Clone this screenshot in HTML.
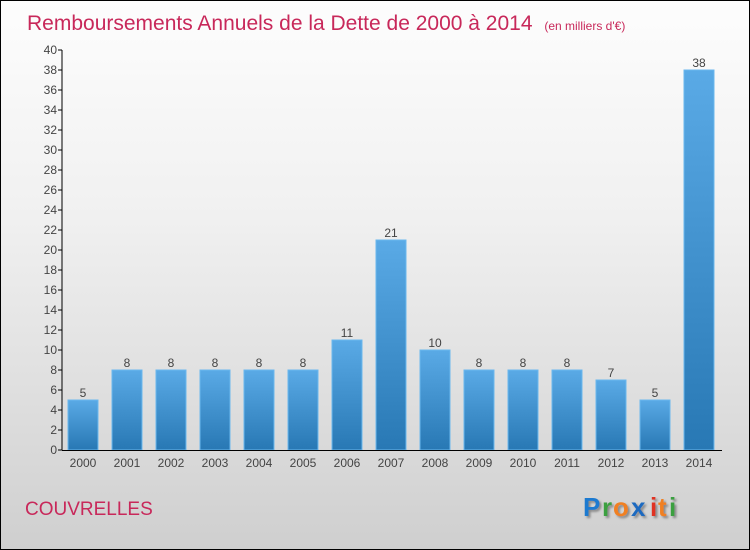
<!DOCTYPE html>
<html><head><meta charset="utf-8"><style>
body{margin:0}
#c{position:relative;width:748px;height:548px;border:1px solid #000;background:linear-gradient(#fdfdfd,#f0f0f0 40%,#cfcfcf);font-family:"Liberation Sans",sans-serif;overflow:hidden}
</style></head><body>
<div id="c">
<svg width="748" height="548" id="svg">
<defs><linearGradient id="g" x1="0" y1="0" x2="0" y2="1"><stop offset="0" stop-color="#5aaae6"/><stop offset="1" stop-color="#2878b4"/></linearGradient>
<filter id="sh"><feDropShadow dx="2" dy="2" stdDeviation="1" flood-color="#888"/></filter></defs>
<text x="26" y="29" font-size="21" fill="#c8285a">Remboursements Annuels de la Dette de 2000 à 2014 <tspan font-size="12" dx="6">(en milliers d'€)</tspan></text>
<text x="24" y="514" font-size="19" fill="#c8285a">COUVRELLES</text>
<g filter="url(#sh)" font-size="26" font-weight="bold"><text x="582" y="515" fill="#1a7ad0">P</text><text x="601" y="515" fill="#3aa040">r</text><text x="612" y="515" fill="#f08020">o</text><text x="630" y="515" fill="#1a6ac0">x</text><text x="649" y="515" fill="#e03020">i</text><text x="657" y="515" fill="#f08020">t</text><text x="668" y="515" fill="#3aa040">i</text></g>
<g id="plot"></g>
</svg></div>
<script>
const categories=["2000","2001","2002","2003","2004","2005","2006","2007","2008","2009","2010","2011","2012","2013","2014"];
const values=[5,8,8,8,8,8,11,21,10,8,8,8,7,5,38];
const yTicks=[0,2,4,6,8,10,12,14,16,18,20,22,24,26,28,30,32,34,36,38,40];
const NS="http://www.w3.org/2000/svg";
const p=document.getElementById('plot');
const y=v=>449-v*10, x=i=>61+i*44;
function mk(t,a,txt){const e=document.createElementNS(NS,t);for(const k in a)e.setAttribute(k,a[k]);if(txt!=null)e.textContent=txt;p.appendChild(e);return e;}
yTicks.forEach(t=>{
const l=mk('line',{x1:57,x2:61,y1:y(t),y2:y(t),stroke:'#000'});


const tx=mk('text',{x:56,y:y(t)+4,'font-size':12,'text-anchor':'end',fill:'#444'},t);


});
values.forEach((v,i)=>{
const b=mk('rect',{x:x(i)+6,y:y(v),width:30,height:v*10,fill:'url(#g)',stroke:'#6ab8ee','stroke-width':1});


const vl=mk('text',{x:x(i)+21,y:y(v)-3,'font-size':12,'text-anchor':'middle',fill:'#444'},v);


const cl=mk('text',{x:x(i)+21,y:466,'font-size':12,'text-anchor':'middle',fill:'#444'},categories[i]);


});
const ya=mk('line',{x1:61,x2:61,y1:y(40),y2:449.5,stroke:'#000'});


const xa=mk('line',{x1:61,x2:721,y1:449.5,y2:449.5,stroke:'#000'});


</script>
</body></html>
